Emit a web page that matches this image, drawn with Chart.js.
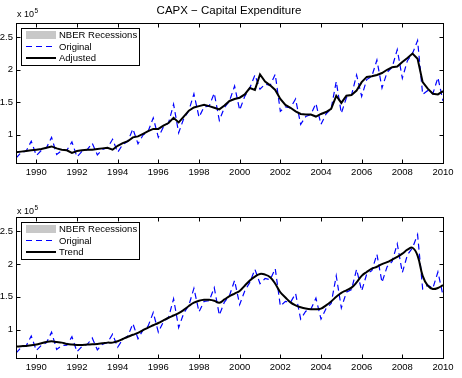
<!DOCTYPE html>
<html><head><meta charset="utf-8">
<script src="https://cdn.jsdelivr.net/npm/chart.js@4.4.0/dist/chart.umd.min.js"></script>
<style>html,body{margin:0;padding:0;background:#fff;} canvas{display:block;}</style>
</head><body>
<canvas id="c1" width="462" height="189"></canvas>
<canvas id="c2" width="462" height="189"></canvas>
<script>
// quarterly data, 1989Q1 .. 2010Q1 (values x 10^5)
const startYear = 1989, quartersPerYear = 4;
const original = [
 0.64,0.725,0.75,0.90,
 0.68,0.76,0.80,0.96,
 0.695,0.755,0.76,0.89,
 0.66,0.745,0.77,0.87,
 0.69,0.775,0.80,0.93,
 0.73,0.85,0.90,1.09,
 0.86,0.995,1.055,1.26,
 0.96,1.12,1.18,1.47,
 1.03,1.25,1.37,1.63,
 1.27,1.43,1.44,1.64,
 1.22,1.42,1.52,1.75,
 1.38,1.59,1.72,1.92,
 1.70,1.78,1.76,1.93,
 1.36,1.43,1.415,1.55,
 1.16,1.28,1.31,1.48,
 1.16,1.32,1.40,1.82,
 1.33,1.57,1.61,1.92,
 1.59,1.85,1.90,2.15,
 1.72,1.96,2.04,2.31,
 1.87,2.14,2.25,2.45,
 1.62,1.68,1.63,1.88,
 1.52];
const adjusted = [
 0.73,0.74,0.75,0.76,
 0.77,0.78,0.80,0.82,
 0.79,0.77,0.76,0.72,
 0.75,0.76,0.77,0.77,
 0.78,0.79,0.80,0.77,
 0.83,0.87,0.90,0.96,
 0.975,1.015,1.055,1.09,
 1.09,1.14,1.18,1.26,
 1.19,1.28,1.37,1.42,
 1.44,1.46,1.44,1.415,
 1.39,1.45,1.52,1.55,
 1.57,1.62,1.72,1.69,
 1.93,1.82,1.76,1.69,
 1.55,1.46,1.415,1.36,
 1.32,1.31,1.31,1.28,
 1.32,1.35,1.40,1.60,
 1.49,1.60,1.61,1.68,
 1.81,1.89,1.90,1.92,
 1.95,2.00,2.04,2.05,
 2.12,2.18,2.25,2.17,
 1.81,1.71,1.63,1.62,
 1.67];
const trend = [
 0.74,0.745,0.75,0.76,
 0.77,0.79,0.81,0.82,
 0.81,0.80,0.78,0.77,
 0.765,0.765,0.77,0.775,
 0.78,0.79,0.80,0.80,
 0.82,0.855,0.89,0.92,
 0.95,0.99,1.03,1.065,
 1.10,1.14,1.18,1.215,
 1.25,1.30,1.36,1.41,
 1.44,1.455,1.455,1.44,
 1.41,1.46,1.51,1.55,
 1.59,1.67,1.75,1.81,
 1.85,1.84,1.80,1.70,
 1.57,1.49,1.415,1.37,
 1.34,1.32,1.31,1.31,
 1.32,1.37,1.43,1.50,
 1.56,1.60,1.64,1.72,
 1.82,1.88,1.93,1.96,
 2.00,2.03,2.07,2.11,
 2.16,2.22,2.25,2.13,
 1.82,1.67,1.62,1.635,
 1.68];
const xTicks = [1990,1992,1994,1996,1998,2000,2002,2004,2006,2008,2010];
const yTicks = [1,1.5,2,2.5];
const yTickLabels = ['1','1.5','2','2.5'];
const titleText = 'CAPX \u2212 Capital Expenditure';
const legendTop = ['NBER Recessions','Original','Adjusted'];
const legendBottom = ['NBER Recessions','Original','Trend'];

const FONT = '"Liberation Sans", Arial, Helvetica, sans-serif';
function pts(arr){ return arr.map((v,i)=>({x:startYear + i/quartersPerYear, y:v})); }

const framePlugin = {
  id:'frame',
  afterDraw(chart, args, opts){
    const {ctx, chartArea:a, scales:{x,y}} = chart;
    ctx.save();
    ctx.strokeStyle='#000'; ctx.lineWidth=1; ctx.setLineDash([]);
    const L=Math.round(a.left)+0.5, R=Math.round(a.right)+0.5, T=Math.round(a.top)+0.5, B=Math.round(a.bottom)+0.5;
    ctx.strokeRect(L,T,R-L,B-T);
    ctx.beginPath();
    xTicks.forEach(v=>{const px=Math.round(x.getPixelForValue(v))+0.5; ctx.moveTo(px,B); ctx.lineTo(px,B-4); ctx.moveTo(px,T); ctx.lineTo(px,T+4);});
    yTicks.forEach(v=>{const py=Math.round(y.getPixelForValue(v))+0.5; ctx.moveTo(L,py); ctx.lineTo(L+4,py); ctx.moveTo(R,py); ctx.lineTo(R-4,py);});
    ctx.stroke();
    ctx.fillStyle='#000'; ctx.textAlign='left'; ctx.textBaseline='alphabetic';
    ctx.font='9px '+FONT; ctx.fillText('x 10', 17, opts.expY);
    ctx.font='6.5px '+FONT; ctx.fillText('5', 34.5, opts.expY-4);
    if(opts.title){ ctx.font='11.5px '+FONT; ctx.textAlign='center'; ctx.fillText(opts.title, 229, 14); }
    // legend
    const bx=21.5, by=Math.round(a.top)+5.5, bw=118, bh=37;
    ctx.fillStyle='#fff'; ctx.fillRect(bx,by,bw,bh);
    ctx.strokeStyle='#000'; ctx.lineWidth=1; ctx.strokeRect(bx,by,bw,bh);
    const rows=[by+6.5, by+18, by+29.5];
    ctx.fillStyle='#c8c8c8'; ctx.fillRect(26, rows[0]-4, 30, 8);
    ctx.strokeStyle='#0000ff'; ctx.lineWidth=1; ctx.setLineDash([6,4]);
    ctx.beginPath(); ctx.moveTo(26,rows[1]); ctx.lineTo(56,rows[1]); ctx.stroke();
    ctx.setLineDash([]); ctx.strokeStyle='#000'; ctx.lineWidth=2;
    ctx.beginPath(); ctx.moveTo(26,rows[2]); ctx.lineTo(56,rows[2]); ctx.stroke();
    ctx.fillStyle='#000'; ctx.font='9.5px '+FONT; ctx.textAlign='left'; ctx.textBaseline='middle';
    opts.labels.forEach((t,i)=>ctx.fillText(t, 59, rows[i]+0.5));
    ctx.restore();
  }
};

function makeChart(id, second, secondTension, padTop, xH, frameOpts){
  return new Chart(document.getElementById(id), {
    type:'line',
    data:{ datasets:[
      {data:pts(second), borderColor:'#000', borderWidth:2, pointRadius:0, tension:secondTension, order:0},
      {data:pts(original), borderColor:'#0000ff', borderWidth:1.2, borderDash:[6,4], pointRadius:0, tension:0, order:1}
    ]},
    options:{
      responsive:false, animation:false, devicePixelRatio:1,
      layout:{padding:{top:padTop, right:19, left:0, bottom:0}},
      plugins:{legend:{display:false}, tooltip:{enabled:false}, title:{display:false}, frame:frameOpts},
      scales:{
        x:{type:'linear', min:1989, max:2010,
           grid:{display:false, drawTicks:false}, border:{display:false},
           afterBuildTicks:s=>{s.ticks=xTicks.map(v=>({value:v}));},
           afterFit:s=>{s.height=xH;},
           ticks:{color:'#000', font:{family:FONT,size:9.5}, padding:4, maxRotation:0, autoSkip:false, callback:v=>String(v)}},
        y:{type:'linear', min:0.565, max:2.72,
           grid:{display:false, drawTicks:false}, border:{display:false},
           afterBuildTicks:s=>{s.ticks=yTicks.map(v=>({value:v}));},
           afterFit:s=>{s.width=16;},
           ticks:{color:'#000', font:{family:FONT,size:9.5}, padding:3, autoSkip:false, callback:v=>yTickLabels[yTicks.indexOf(v)]}}
      }
    },
    plugins:[framePlugin]
  });
}
makeChart('c1', adjusted, 0, 23, 26, {title:titleText, expY:17, labels:legendTop});
makeChart('c2', trend, 0.4, 28, 20, {title:null, expY:25, labels:legendBottom});
</script>
</body></html>
